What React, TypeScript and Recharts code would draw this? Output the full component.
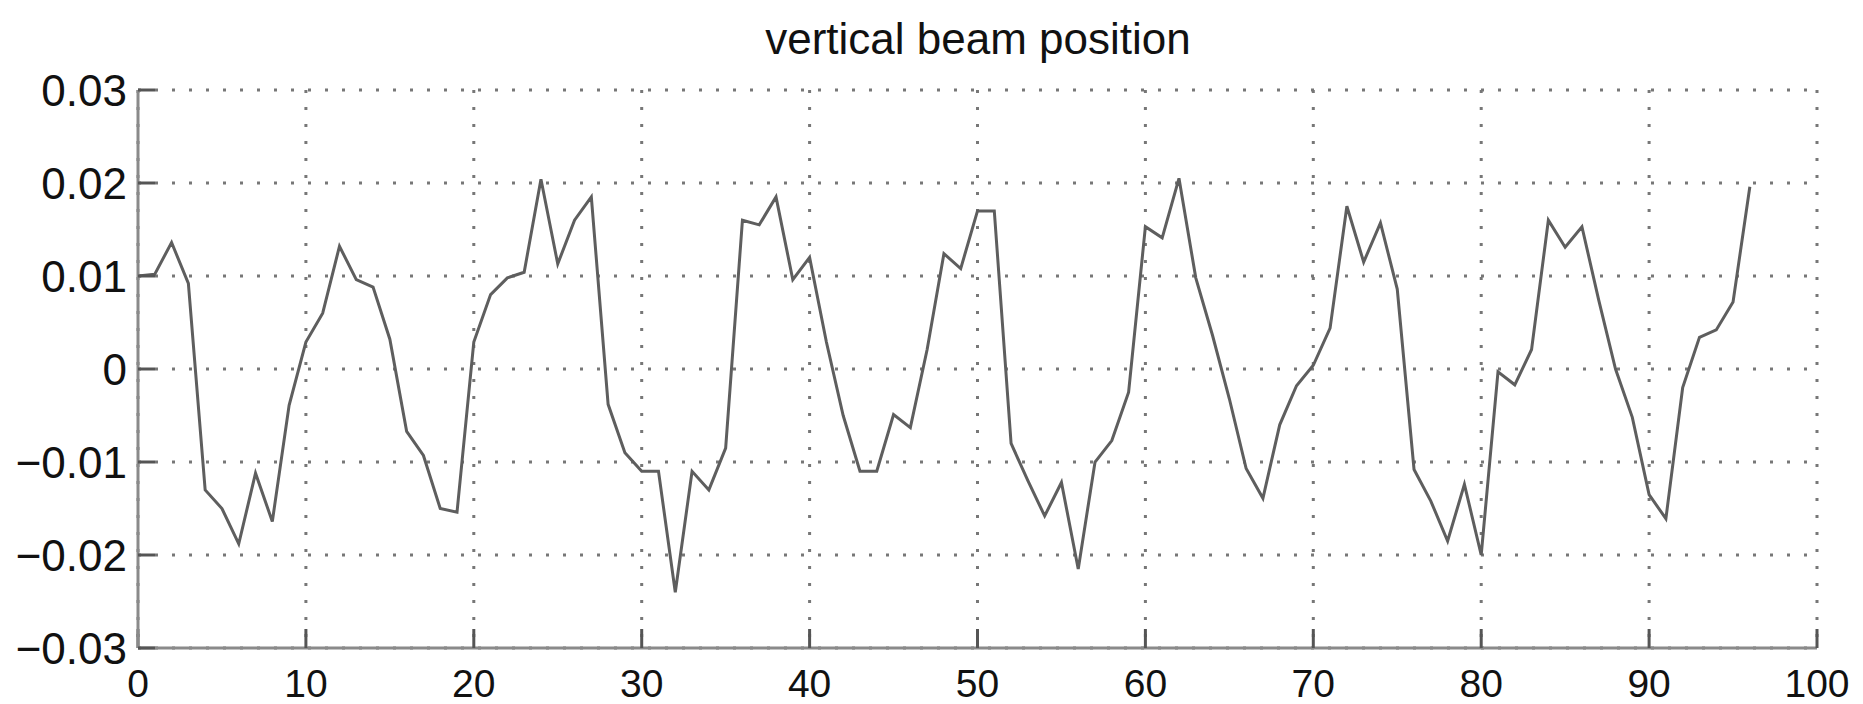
import { LineChart, Line, XAxis, YAxis, CartesianGrid } from "recharts";

// vertical beam position, one reading per sample index 0..96
const beamPos = [
  0.01, 0.0102, 0.0136, 0.0092, -0.013, -0.015, -0.0188, -0.0112, -0.0164, -0.0039,
  0.0029, 0.006, 0.0132, 0.0096, 0.0088, 0.0032, -0.0067, -0.0093, -0.015, -0.0154,
  0.0029, 0.008, 0.0098, 0.0104, 0.0204, 0.0113, 0.016, 0.0185, -0.0038, -0.009,
  -0.011, -0.011, -0.024, -0.011, -0.013, -0.0085, 0.016, 0.0155, 0.0185, 0.0096,
  0.012, 0.0029, -0.005, -0.011, -0.011, -0.0049, -0.0063, 0.0021, 0.0124, 0.0108,
  0.017, 0.017, -0.008, -0.012, -0.0158, -0.0122, -0.0215, -0.01, -0.0077, -0.0025,
  0.0153, 0.0141, 0.0205, 0.0098, 0.0036, -0.0032, -0.0107, -0.0139, -0.006, -0.0018,
  0.0004, 0.0044, 0.0175, 0.0115, 0.0157, 0.0086, -0.0108, -0.0142, -0.0185, -0.0124,
  -0.02, -0.0003, -0.0017, 0.0021, 0.016, 0.0131, 0.0153, 0.0074, 0, -0.0052,
  -0.0135, -0.0161, -0.002, 0.0034, 0.0042, 0.0072, 0.0196,
];

const xTicks = [0, 10, 20, 30, 40, 50, 60, 70, 80, 90, 100];
const yTicks = [-0.03, -0.02, -0.01, 0, 0.01, 0.02, 0.03];
const title = "vertical beam position";

const data = beamPos.map((v, i) => ({ sample: i, pos: v }));

const fmtY = (v: number) => (v === 0 ? "0" : v.toFixed(2).replace("-", "\u2212"));

const boxLine = { stroke: "#8a8a8a", strokeWidth: 3 };
const tickLine = { stroke: "#555", strokeWidth: 3 };
const font = "'Liberation Sans', Arial, sans-serif";

export default function App() {
  return (
    <div style={{ position: "absolute", left: 0, top: 0, width: 1863, height: 704, background: "#fff" }}>
      <svg width={1863} height={704} style={{ position: "absolute", left: 0, top: 0 }}>
        <text x={978} y={54} textAnchor="middle" fontFamily={font} fontSize={44} fill="#111">
          {title}
        </text>
      </svg>
      <div style={{ position: "absolute", left: 0, top: 0 }}>
        <LineChart width={1863} height={704} data={data} margin={{ top: 90, right: 46, bottom: 0, left: 0 }}>
          <CartesianGrid stroke="#777" strokeWidth={3} strokeDasharray="3 14" />
          <XAxis
            dataKey="sample"
            type="number"
            domain={[0, 100]}
            ticks={xTicks}
            height={56}
            axisLine={boxLine}
            tickLine={tickLine}
            tickSize={-19}
            tickMargin={40}
            tick={{ fill: "#111", fontSize: 39, fontFamily: font }}
          />
          <XAxis
            xAxisId="top"
            orientation="top"
            dataKey="sample"
            type="number"
            domain={[0, 100]}
            ticks={xTicks}
            height={0}
            axisLine={boxLine}
            tickLine={tickLine}
            tickSize={-19}
            tick={false}
          />
          <YAxis
            type="number"
            domain={[-0.03, 0.03]}
            ticks={yTicks}
            width={138}
            axisLine={boxLine}
            tickLine={tickLine}
            tickSize={-17}
            tickMargin={28}
            tickFormatter={fmtY}
            tick={{ fill: "#111", fontSize: 44, fontFamily: font }}
          />
          <YAxis
            yAxisId="right"
            orientation="right"
            type="number"
            domain={[-0.03, 0.03]}
            ticks={yTicks}
            width={0}
            axisLine={boxLine}
            tickLine={tickLine}
            tickSize={-17}
            tick={false}
          />
          <Line
            type="linear"
            dataKey="pos"
            stroke="#5e5e5e"
            strokeWidth={3}
            dot={false}
            isAnimationActive={false}
          />
        </LineChart>
      </div>
    </div>
  );
}
